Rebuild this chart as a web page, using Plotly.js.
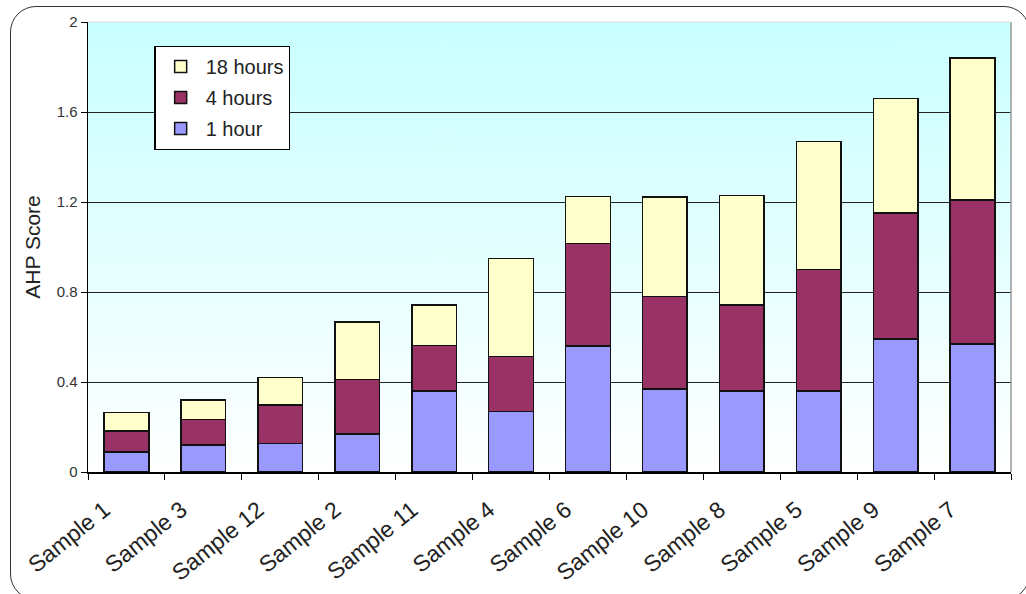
<!DOCTYPE html>
<html>
<head>
<meta charset="utf-8">
<script src="https://cdn.plot.ly/plotly-3.0.1.min.js"></script>
<style>
  html, body { margin: 0; padding: 0; background: #ffffff; }
  #wrap { position: relative; width: 1026px; height: 594px; overflow: hidden; }
  #chart { position: absolute; left: 0; top: 0; width: 1026px; height: 594px; }
  #frame { position: absolute; left: 10px; top: 6px; width: 1020px; height: 594px;
           border: 1.5px solid #333; border-radius: 26px; pointer-events: none; box-sizing: border-box; }
</style>
</head>
<body>
<div id="wrap">
  <div id="chart"></div>
  <div id="frame"></div>
</div>
<script>
const categories = ["Sample 1", "Sample 3", "Sample 12", "Sample 2", "Sample 11", "Sample 4",
                    "Sample 6", "Sample 10", "Sample 8", "Sample 5", "Sample 9", "Sample 7"];
const oneHour    = [0.090, 0.119, 0.126, 0.168, 0.361, 0.268, 0.561, 0.369, 0.361, 0.361, 0.591, 0.569];
const fourHours  = [0.092, 0.115, 0.172, 0.244, 0.202, 0.245, 0.454, 0.410, 0.381, 0.540, 0.561, 0.640];
const eighteenHours = [0.082, 0.086, 0.121, 0.254, 0.179, 0.437, 0.209, 0.443, 0.488, 0.567, 0.509, 0.631];
const yTickVals = [0, 0.4, 0.8, 1.2, 1.6, 2];
const yTickText = ["0", "0.4", "0.8", "1.2", "1.6", "2"];

// gradient image for plot background
const cv = document.createElement("canvas");
cv.width = 4; cv.height = 256;
const ctx = cv.getContext("2d");
const g = ctx.createLinearGradient(0, 0, 0, 256);
g.addColorStop(0, "#c9ffff");
g.addColorStop(1, "#ffffff");
ctx.fillStyle = g;
ctx.fillRect(0, 0, 4, 256);
const gradURL = cv.toDataURL("image/png");

const line = { color: "#111111", width: 1.5 };
const traces = [
  { type: "bar", name: "1 hour", x: categories, y: oneHour, legendgroup: "a", legendrank: 3,
    marker: { color: "#9999ff", line: line } },
  { type: "bar", name: "4 hours", x: categories, y: fourHours, legendgroup: "b", legendrank: 2,
    marker: { color: "#993366", line: line } },
  { type: "bar", name: "18 hours", x: categories, y: eighteenHours, legendgroup: "c", legendrank: 1,
    marker: { color: "#ffffcc", line: line } }
];

const layout = {
  width: 1026, height: 594,
  margin: { l: 88, r: 15, t: 22, b: 122 },
  paper_bgcolor: "rgba(0,0,0,0)",
  plot_bgcolor: "rgba(0,0,0,0)",
  barmode: "stack",
  bargap: 0.42,
  font: { family: "Liberation Sans, Arial, sans-serif", color: "#222222" },
  showlegend: true,
  legend: {
    x: 0.072, y: 0.947, xanchor: "left", yanchor: "top",
    bgcolor: "#ffffff", bordercolor: "#000000", borderwidth: 1.2,
    font: { size: 20, color: "#222222" },
    traceorder: "grouped",
    tracegroupgap: 2,
    itemwidth: 40,
    entrywidth: 112, entrywidthmode: "pixels"
  },
  xaxis: {
    type: "category",
    tickangle: -39,
    tickfont: { size: 23, color: "#222222" },
    ticks: "outside", tickson: "boundaries", ticklen: 6, tickcolor: "#000",
    ticklabelstandoff: 14, ticklabelshift: -22,
    showline: true, linecolor: "#000000", linewidth: 1.5,
    showgrid: false, zeroline: false
  },
  yaxis: {
    range: [0, 2],
    tickvals: yTickVals, ticktext: yTickText,
    tickfont: { size: 15, color: "#333333" },
    ticks: "outside", ticklen: 6, tickcolor: "#000",
    showline: true, linecolor: "#000000", linewidth: 1.5,
    showgrid: true, gridcolor: "#222222", gridwidth: 1,
    zeroline: false,
    title: { text: "AHP Score", font: { size: 21, color: "#222222" }, standoff: 10 }
  },
  images: [{
    source: gradURL, xref: "paper", yref: "paper",
    x: 0, y: 1, sizex: 1, sizey: 1, xanchor: "left", yanchor: "top",
    sizing: "stretch", layer: "below"
  }],
  shapes: [
    { type: "line", xref: "paper", yref: "paper", x0: 1, x1: 1, y0: 0, y1: 1,
      line: { color: "#999999", width: 1.5 } },
    { type: "line", xref: "paper", yref: "paper", x0: 0, x1: 1, y0: 1, y1: 1,
      line: { color: "#dddddd", width: 1 } }
  ]
};

Plotly.newPlot("chart", traces, layout, { displayModeBar: false, staticPlot: true });
</script>
</body>
</html>
